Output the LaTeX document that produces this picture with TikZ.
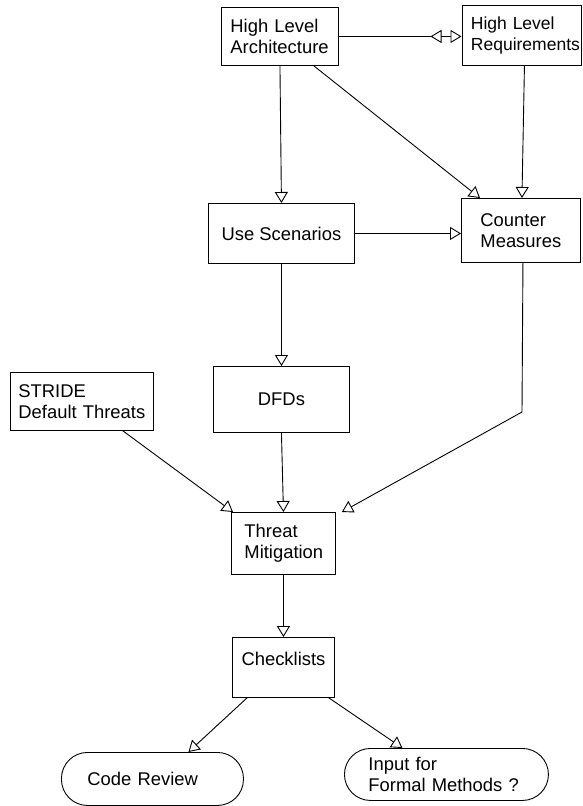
\documentclass[tikz,border=0pt]{standalone}
\usepackage{fontspec}
\setmainfont{Liberation Sans}
\usetikzlibrary{arrows.meta,calc}
\begin{document}
\begin{tikzpicture}[x=1pt,y=-1pt,
  every node/.style={font=\fontsize{18.4}{21.5}\selectfont},
  box/.style={draw=black, fill=white, line width=0.9pt, inner ysep=0pt, anchor=north west},
  term/.style={box, rounded corners=26pt},
  arr/.style={draw=black, line width=0.9pt, -{Triangle[fill=white,length=11pt,width=13pt]}},
  plain/.style={draw=black, line width=0.9pt}]
\useasboundingbox (0,0) rectangle (582,806);

% nodes
\node[box, align=left, text width=99pt, inner xsep=9pt, minimum height=58pt] (hla) at (221,7) {High Level\\Architecture};
\node[box, align=left, text width=101pt, inner xsep=9pt, minimum height=60pt, font=\fontsize{17.5}{21.5}\selectfont] (hlr) at (461.5,5) {High Level\\Requirements};
\node[box, align=center, minimum width=146pt, minimum height=60pt] (us) at (208,203) {Use Scenarios};
\node[box, align=left, text width=81pt, inner xsep=19pt, minimum height=64pt] (cm) at (461,198) {Counter\\Measures};
\node[box, align=left, text width=127pt, inner xsep=8pt, minimum height=58pt] (stride) at (10,372) {STRIDE\\Default Threats};
\node[box, align=center, minimum width=136pt, minimum height=66pt] (dfds) at (213,366) {DFDs};
\node[box, align=left, text width=78pt, inner xsep=13pt, minimum height=62pt] (tm) at (231,512) {Threat\\Mitigation};
\node[box, align=center, minimum width=102pt, minimum height=60pt, text height=13pt, text depth=17pt] (cl) at (232,637) {Checklists};
\node[term, align=left, text width=130pt, inner xsep=26pt, minimum height=53pt] (cr) at (61,752) {Code Review};
\node[term, align=left, text width=156pt, inner xsep=24pt, minimum height=52pt] (inp) at (344,748) {Input for\\Formal Methods ?};

% connectors
\draw[arr] (hla.east) -- (hlr.west |- hla.east);
\draw[arr] ([xshift=-20pt]hlr.west |- hla.east) -- ([xshift=-31pt]hlr.west |- hla.east);
\draw[arr] (hla.south) -- (us.north);
\draw[arr] ([xshift=-25pt]hla.south east) -- ([xshift=19pt]cm.north west);
\draw[arr] ([xshift=3pt]hlr.south) -- ([xshift=1pt]cm.north);
\draw[arr] (us.east) -- (us.east -| cm.west);
\draw[arr] (us.south) -- (dfds.north);
\draw[arr] (dfds.south) -- (tm.north);
\draw[arr] ([xshift=41pt]stride.south) -- ([xshift=2pt]tm.north west);
\coordinate (bend) at (522,412);
\draw[arr] ([xshift=2pt]cm.south) -- (bend) -- ([xshift=6pt]tm.north east);
\draw[arr] (tm.south) -- (cl.north);
\draw[arr] ([xshift=15pt]cl.south west) -- ([xshift=36pt]cr.north);
\draw[arr] ([xshift=-6pt]cl.south east) -- ([xshift=-44pt]inp.north);
\end{tikzpicture}
\end{document}
